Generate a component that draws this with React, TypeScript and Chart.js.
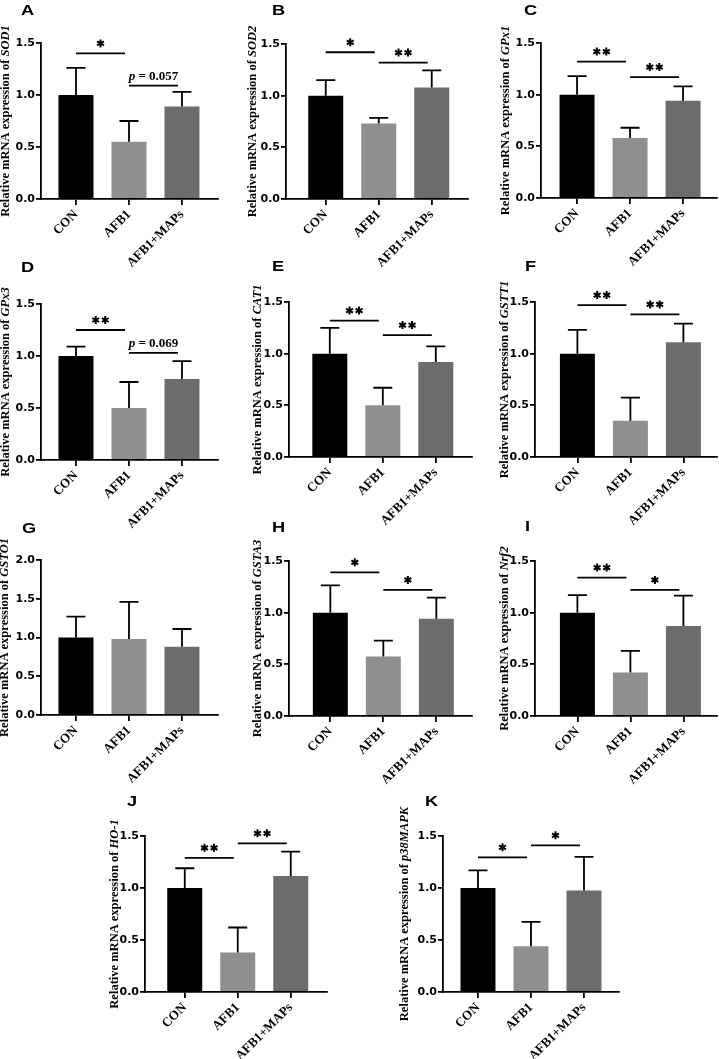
import React, { useEffect, useRef } from 'react';
import { Chart, registerables } from 'chart.js';
Chart.register(...registerables);

// ---------- DATA ----------
const categories = ['CON', 'AFB1', 'AFB1+MAPs'];
const panelLetters = ['A', 'B', 'C', 'D', 'E', 'F', 'G', 'H', 'I', 'J', 'K'];
const geneNames = ['SOD1', 'SOD2', 'GPx1', 'GPx3', 'CAT1', 'GSTT1', 'GSTO1', 'GSTA3', 'Nrf2', 'HO-1', 'p38MAPK'];
const yAxisMax = [1.5, 1.5, 1.5, 1.5, 1.5, 1.5, 2.0, 1.5, 1.5, 1.5, 1.5];
const yTickStep = 0.5;

const conMean = [1.0, 1.0, 1.0, 1.0, 1.0, 1.0, 1.0, 1.0, 1.0, 1.0, 1.0];
const afb1Mean = [0.55, 0.73, 0.58, 0.50, 0.50, 0.35, 0.98, 0.575, 0.42, 0.38, 0.44];
const mapsMean = [0.89, 1.08, 0.94, 0.78, 0.92, 1.11, 0.88, 0.94, 0.87, 1.115, 0.975];

const conSD = [0.26, 0.15, 0.18, 0.09, 0.25, 0.23, 0.27, 0.265, 0.17, 0.19, 0.17];
const afb1SD = [0.20, 0.055, 0.10, 0.25, 0.17, 0.225, 0.48, 0.155, 0.21, 0.24, 0.235];
const mapsSD = [0.14, 0.165, 0.14, 0.17, 0.15, 0.18, 0.23, 0.205, 0.295, 0.235, 0.325];

const sigLabelConVsAfb1 = ['*', '*', '**', '**', '**', '**', null, '*', '**', '**', '*'];
const sigLabelAfb1VsMaps = ['p = 0.057', '**', '**', 'p = 0.069', '**', '**', null, '*', '*', '**', '*'];
const sigHeightConVsAfb1 = [1.40, 1.42, 1.32, 1.25, 1.32, 1.47, null, 1.39, 1.34, 1.29, 1.295];
const sigHeightAfb1VsMaps = [1.09, 1.32, 1.17, 1.03, 1.18, 1.38, null, 1.22, 1.22, 1.43, 1.41];

// ---------- LAYOUT (pixel geometry of each panel) ----------
const panelLayout = [
  { axisX: 41, topY: 43, zeroY: 199, endX: 218, lx: 21, ly: 6, titleGap: 35, xMin: -0.66 },
  { axisX: 286, topY: 44, zeroY: 199, endX: 468, lx: 272, ly: 6, titleGap: 33, xMin: -0.75 },
  { axisX: 541, topY: 43, zeroY: 198, endX: 717, lx: 524, ly: 6, titleGap: 35, xMin: -0.68 },
  { axisX: 41, topY: 304, zeroY: 460, endX: 218, lx: 21, ly: 263, titleGap: 35, xMin: -0.66 },
  { axisX: 289, topY: 302, zeroY: 457, endX: 472, lx: 272, ly: 262, titleGap: 31, xMin: -0.77 },
  { axisX: 535, topY: 302, zeroY: 457, endX: 717, lx: 525, ly: 262, titleGap: 30, xMin: -0.8 },
  { axisX: 41, topY: 560, zeroY: 715, endX: 218, lx: 22, ly: 524, titleGap: 36, xMin: -0.66 },
  { axisX: 289, topY: 561, zeroY: 716, endX: 472, lx: 272, ly: 523, titleGap: 31, xMin: -0.78 },
  { axisX: 535, topY: 561, zeroY: 716, endX: 717, lx: 525, ly: 522, titleGap: 30, xMin: -0.8 },
  { axisX: 145, topY: 836, zeroY: 992, endX: 327, lx: 127, ly: 797, titleGap: 30, xMin: -0.75 },
  { axisX: 443, topY: 836, zeroY: 992, endX: 619, lx: 425, ly: 797, titleGap: 38, xMin: -0.66 },
];
const BAR_SPACING = 53;
const PAD_TOP = 48;
const Y_W = 50;
const X_H = 76;
const PAD_R = 2;
const barColors = ['#000000', '#8f8f8f', '#6c6c6c'];
const SERIF = '"Liberation Serif", "Times New Roman", serif';

function drawAsterisk(ctx: CanvasRenderingContext2D, cx: number, cy: number, r: number) {
  ctx.beginPath();
  [90, 30, -30].forEach((deg) => {
    const a = (deg * Math.PI) / 180;
    ctx.moveTo(cx - r * Math.cos(a), cy - r * Math.sin(a));
    ctx.lineTo(cx + r * Math.cos(a), cy + r * Math.sin(a));
  });
  ctx.stroke();
}

function Panel({ idx }: { idx: number }) {
  const ref = useRef<HTMLCanvasElement | null>(null);
  const L = panelLayout[idx];
  const left = L.axisX - Y_W;
  const top = L.topY - PAD_TOP;
  const width = L.endX - L.axisX + Y_W + PAD_R;
  const height = L.zeroY - L.topY + PAD_TOP + X_H;

  useEffect(() => {
    if (!ref.current) return;
    const means = [conMean[idx], afb1Mean[idx], mapsMean[idx]];
    const sds = [conSD[idx], afb1SD[idx], mapsSD[idx]];
    const xMax = L.xMin + (L.endX - L.axisX) / BAR_SPACING;

    const annot = {
      id: 'annot',
      afterDraw(chart: any) {
        const ctx: CanvasRenderingContext2D = chart.ctx;
        const xs = chart.scales.x;
        const ys = chart.scales.y;
        const area = chart.chartArea;
        ctx.save();
        ctx.strokeStyle = '#000';
        ctx.fillStyle = '#000';
        ctx.lineWidth = 1.8;
        // error bars
        means.forEach((m, k) => {
          const x = xs.getPixelForValue(k);
          const y0 = ys.getPixelForValue(m);
          const y1 = ys.getPixelForValue(m + sds[k]);
          ctx.beginPath();
          ctx.moveTo(x, y0);
          ctx.lineTo(x, y1);
          ctx.moveTo(x - 9.5, y1);
          ctx.lineTo(x + 9.5, y1);
          ctx.stroke();
        });
        // significance brackets
        const comps = [
          { a: 0, b: 1, h: sigHeightConVsAfb1[idx], label: sigLabelConVsAfb1[idx] },
          { a: 1, b: 2, h: sigHeightAfb1VsMaps[idx], label: sigLabelAfb1VsMaps[idx] },
        ];
        comps.forEach((c) => {
          if (c.h == null || c.label == null) return;
          const x1 = xs.getPixelForValue(c.a);
          const x2 = xs.getPixelForValue(c.b) - 4;
          const y = ys.getPixelForValue(c.h);
          ctx.lineWidth = 1.8;
          ctx.beginPath();
          ctx.moveTo(x1, y);
          ctx.lineTo(x2, y);
          ctx.stroke();
          const cx = (x1 + x2) / 2;
          if (c.label.startsWith('p')) {
            const rest = c.label.slice(1);
            ctx.font = `italic bold 13px ${SERIF}`;
            const w1 = ctx.measureText('p').width;
            ctx.font = `bold 13px ${SERIF}`;
            const w2 = ctx.measureText(rest).width;
            const sx = cx - (w1 + w2) / 2;
            ctx.textBaseline = 'alphabetic';
            ctx.textAlign = 'left';
            ctx.font = `italic bold 13px ${SERIF}`;
            ctx.fillText('p', sx, y - 6);
            ctx.font = `bold 13px ${SERIF}`;
            ctx.fillText(rest, sx + w1, y - 6);
          } else {
            const n = c.label.length;
            ctx.lineWidth = 2;
            for (let s = 0; s < n; s++) {
              const sx = cx + (s - (n - 1) / 2) * 9.5;
              drawAsterisk(ctx, sx, y - 10, 4);
            }
          }
        });
        // y-axis title
        const t1 = 'Relative mRNA expression of ';
        const t2 = geneNames[idx];
        ctx.font = `bold 12.5px ${SERIF}`;
        const tw1 = ctx.measureText(t1).width;
        ctx.font = `italic bold 12.5px ${SERIF}`;
        const tw2 = ctx.measureText(t2).width;
        ctx.save();
        ctx.translate(area.left - L.titleGap, (area.top + area.bottom) / 2);
        ctx.rotate(-Math.PI / 2);
        ctx.textBaseline = 'middle';
        ctx.textAlign = 'left';
        ctx.font = `bold 12.5px ${SERIF}`;
        ctx.fillText(t1, -(tw1 + tw2) / 2, 0);
        ctx.font = `italic bold 12.5px ${SERIF}`;
        ctx.fillText(t2, -(tw1 + tw2) / 2 + tw1, 0);
        ctx.restore();
        // panel letter
        ctx.save();
        ctx.translate(L.lx - left, L.ly - top - 2);
        ctx.scale(1.3, 1);
        ctx.font = 'bold 14px "Liberation Sans", Arial, sans-serif';
        ctx.textBaseline = 'top';
        ctx.textAlign = 'left';
        ctx.fillText(panelLetters[idx], 0, 0);
        ctx.restore();
        ctx.restore();
      },
    };

    const chart = new Chart(ref.current, {
      type: 'bar',
      data: {
        datasets: [
          {
            data: categories.map((_, k) => ({ x: k, y: means[k] })),
            backgroundColor: barColors,
            borderWidth: 0,
            barPercentage: 0.66,
            categoryPercentage: 1,
          },
        ],
      },
      options: {
        responsive: false,
        animation: false,
        events: [],
        layout: { padding: { left: 0, top: PAD_TOP, right: PAD_R, bottom: 0 } },
        plugins: { legend: { display: false }, tooltip: { enabled: false } },
        scales: {
          x: {
            type: 'linear',
            offset: false,
            min: L.xMin,
            max: xMax,
            afterBuildTicks: (axis: any) => {
              axis.ticks = categories.map((_, k) => ({ value: k }));
            },
            afterFit: (s: any) => {
              s.height = X_H;
              s.paddingLeft = 0;
              s.paddingRight = 0;
            },
            grid: { display: true, offset: false, drawOnChartArea: false, drawTicks: true, tickLength: 6, color: '#000', lineWidth: 1.8 },
            border: { display: true, color: '#000', width: 1.8, z: 1 },
            ticks: {
              autoSkip: false,
              maxRotation: 45,
              minRotation: 45,
              padding: 2,
              color: '#000',
              font: { family: SERIF, size: 13, weight: 'bold' },
              callback: (v: any) => categories[Math.round(Number(v))] ?? '',
            },
          },
          y: {
            type: 'linear',
            min: 0,
            max: yAxisMax[idx],
            afterFit: (s: any) => {
              s.width = Y_W;
              s.paddingTop = 0;
              s.paddingBottom = 0;
            },
            grid: { display: true, drawOnChartArea: false, drawTicks: true, tickLength: 5, color: '#000', lineWidth: 1.8 },
            border: { display: true, color: '#000', width: 1.8, z: 1 },
            ticks: {
              stepSize: yTickStep,
              padding: 1,
              color: '#000',
              font: { family: '"DejaVu Sans", sans-serif', size: 11, weight: 'bold' },
              callback: (v: any) => Number(v).toFixed(1),
            },
          },
        },
      },
      plugins: [annot],
    } as any);
    return () => chart.destroy();
  }, [idx]);

  return (
    <canvas
      ref={ref}
      width={width}
      height={height}
      style={{ position: 'absolute', left: left + 'px', top: top + 'px', width: width + 'px', height: height + 'px' }}
    />
  );
}

export default function App() {
  return (
    <div style={{ position: 'fixed', left: 0, top: 0, width: '719px', height: '1059px', overflow: 'hidden', background: '#fff' }}>
      {panelLayout.map((_, i) => (
        <Panel key={i} idx={i} />
      ))}
    </div>
  );
}
